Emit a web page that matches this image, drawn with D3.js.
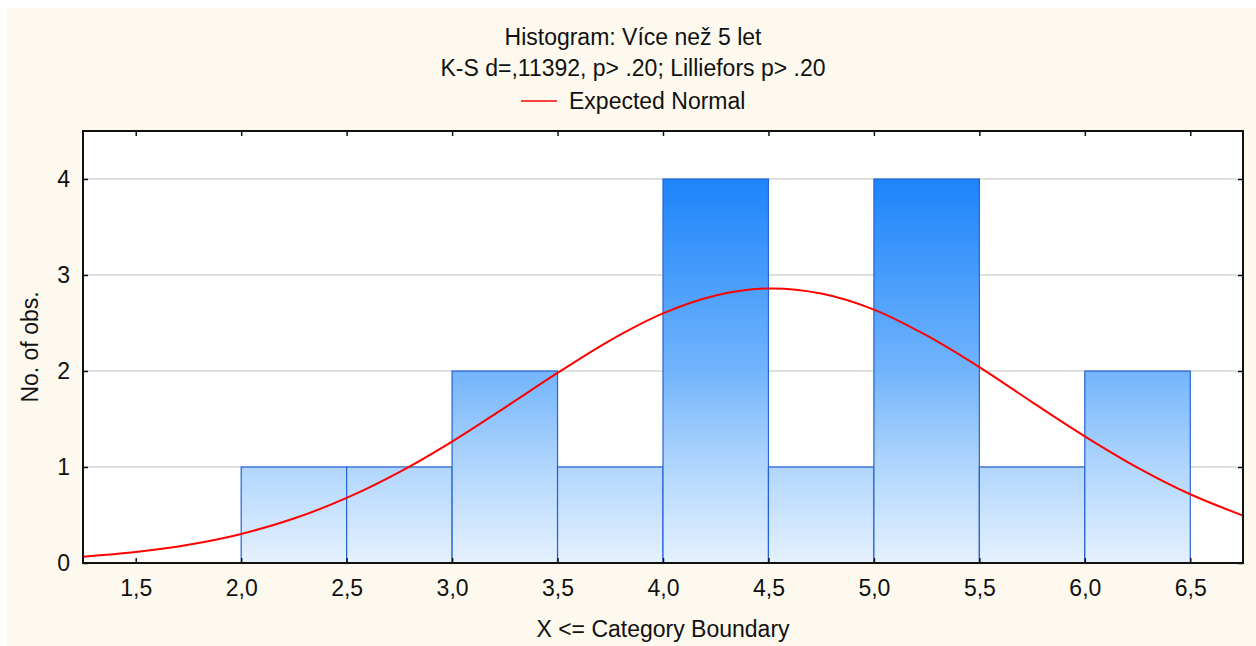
<!DOCTYPE html>
<html>
<head>
<meta charset="utf-8">
<script src="https://cdn.jsdelivr.net/npm/d3@7"></script>
<style>
  html, body { margin: 0; padding: 0; background: #fff; }
  text { font-family: "Liberation Sans", Arial, sans-serif; fill: #111; }
</style>
</head>
<body>
<div id="chart"></div>
<script>
// histogram bins (upper category boundary) and counts
var binStart = [2.0, 2.5, 3.0, 3.5, 4.0, 4.5, 5.0, 5.5, 6.0];
var binEnd   = [2.5, 3.0, 3.5, 4.0, 4.5, 5.0, 5.5, 6.0, 6.5];
var counts   = [1, 1, 2, 1, 4, 1, 4, 1, 2];

// expected normal curve
var curveX = [1.25, 1.5, 1.75, 2.0, 2.25, 2.5, 2.75, 3.0, 3.25, 3.5, 3.75, 4.0, 4.25,
              4.5, 4.75, 5.0, 5.25, 5.5, 5.75, 6.0, 6.25, 6.5, 6.75];
var curveY = [0.066, 0.114, 0.19, 0.303, 0.463, 0.678, 0.947, 1.265, 1.619, 1.98, 2.32, 2.6, 2.787,
              2.86, 2.807, 2.64, 2.37, 2.04, 1.676, 1.32, 0.994, 0.716, 0.494];

var xTicks = [1.5, 2.0, 2.5, 3.0, 3.5, 4.0, 4.5, 5.0, 5.5, 6.0, 6.5];
var yTicks = [0, 1, 2, 3, 4];

var titleLines = ["Histogram: Více než 5 let", "K-S d=,11392, p> .20; Lilliefors p> .20"];
var legendLabel = "Expected Normal";
var xTitle = "X <= Category Boundary";
var yTitle = "No. of obs.";

(function () {
  var W = 1256, H = 646;
  var pL = 83, pR = 1243, pT = 131, pB = 563;
  var fs = "23px";

  var svg = d3.select("#chart").append("svg")
    .attr("width", W).attr("height", H);

  // cream background
  svg.append("rect").attr("x", 7).attr("y", 8)
    .attr("width", W - 7).attr("height", H - 8)
    .attr("fill", "#fdf9ee");

  var x = d3.scaleLinear().domain([1.25, 6.75]).range([pL, pR]);
  var y = d3.scaleLinear().domain([0, 4.5]).range([pB, pT]);

  var grad = svg.append("defs").append("linearGradient")
    .attr("id", "barGrad")
    .attr("gradientUnits", "userSpaceOnUse")
    .attr("x1", 0).attr("x2", 0)
    .attr("y1", y(4)).attr("y2", y(0));
  grad.append("stop").attr("offset", 0).attr("stop-color", "#1c84fb");
  grad.append("stop").attr("offset", 0.5).attr("stop-color", "#72b4fc");
  grad.append("stop").attr("offset", 0.75).attr("stop-color", "#b1d6fd");
  grad.append("stop").attr("offset", 1).attr("stop-color", "#e5f1fe");

  // plot area
  svg.append("rect")
    .attr("x", pL).attr("y", pT)
    .attr("width", pR - pL).attr("height", pB - pT)
    .attr("fill", "#fff");

  // grid lines
  svg.append("g").selectAll("line")
    .data(yTicks.filter(function(d) { return d > 0; }))
    .enter().append("line")
    .attr("x1", pL).attr("x2", pR)
    .attr("y1", function(d) { return y(d); })
    .attr("y2", function(d) { return y(d); })
    .attr("stroke", "#d6d6d6")
    .attr("stroke-width", 1.5);

  // bars
  var bins = counts.map(function(c, i) { return {x0: binStart[i], x1: binEnd[i], n: c}; });
  svg.append("g").selectAll("rect")
    .data(bins)
    .enter().append("rect")
    .attr("x", function(d) { return x(d.x0); })
    .attr("y", function(d) { return y(d.n); })
    .attr("width", function(d) { return x(d.x1) - x(d.x0); })
    .attr("height", function(d) { return y(0) - y(d.n); })
    .attr("fill", "url(#barGrad)")
    .attr("stroke", "#2562d4")
    .attr("stroke-width", 1.2);

  // expected normal curve
  var pts = curveX.map(function(v, i) { return [v, curveY[i]]; });
  var line = d3.line()
    .x(function(d) { return x(d[0]); })
    .y(function(d) { return y(d[1]); })
    .curve(d3.curveCatmullRom);
  svg.append("path")
    .datum(pts)
    .attr("d", line)
    .attr("fill", "none")
    .attr("stroke", "#f00")
    .attr("stroke-width", 2);

  // axes, ticks inside on all four sides
  var fmt = function(d) { return d3.format(".1f")(d).replace(".", ","); };

  var xAxis = svg.append("g")
    .attr("transform", "translate(0," + pB + ")")
    .call(d3.axisBottom(x).tickValues(xTicks).tickFormat(fmt).tickSize(-5).tickPadding(17));
  var xTop = svg.append("g")
    .attr("transform", "translate(0," + pT + ")")
    .call(d3.axisTop(x).tickValues(xTicks).tickFormat("").tickSize(-5));
  var yAxis = svg.append("g")
    .attr("transform", "translate(" + pL + ",0)")
    .call(d3.axisLeft(y).tickValues(yTicks).tickFormat(d3.format("d")).tickSize(-5).tickPadding(13));
  var yRight = svg.append("g")
    .attr("transform", "translate(" + pR + ",0)")
    .call(d3.axisRight(y).tickValues(yTicks).tickFormat("").tickSize(-5));

  [xAxis, xTop, yAxis, yRight].forEach(function(g) {
    g.select(".domain").remove();
    g.selectAll(".tick line").attr("stroke", "#111").attr("stroke-width", 1.5);
    g.selectAll(".tick text").style("font-size", fs).attr("fill", "#111")
      .style("font-family", "'Liberation Sans', Arial, sans-serif");
  });

  // frame
  svg.append("rect")
    .attr("x", pL).attr("y", pT)
    .attr("width", pR - pL).attr("height", pB - pT)
    .attr("fill", "none")
    .attr("stroke", "#111")
    .attr("stroke-width", 2);

  // titles
  svg.append("g").selectAll("text")
    .data(titleLines)
    .enter().append("text")
    .attr("x", 633)
    .attr("y", function(d, i) { return 45 + i * 31; })
    .attr("text-anchor", "middle")
    .style("font-size", fs)
    .text(function(d) { return d; });

  // legend
  svg.append("line")
    .attr("x1", 521).attr("x2", 557)
    .attr("y1", 101).attr("y2", 101)
    .attr("stroke", "#f00").attr("stroke-width", 1.5);
  svg.append("text")
    .attr("x", 569).attr("y", 109)
    .style("font-size", fs)
    .text(legendLabel);

  // axis titles
  svg.append("text")
    .attr("x", 663).attr("y", 637)
    .attr("text-anchor", "middle")
    .style("font-size", fs)
    .text(xTitle);

  svg.append("text")
    .attr("transform", "translate(38," + ((pT + pB) / 2) + ") rotate(-90)")
    .attr("text-anchor", "middle")
    .style("font-size", fs)
    .text(yTitle);
})();
</script>
</body>
</html>
